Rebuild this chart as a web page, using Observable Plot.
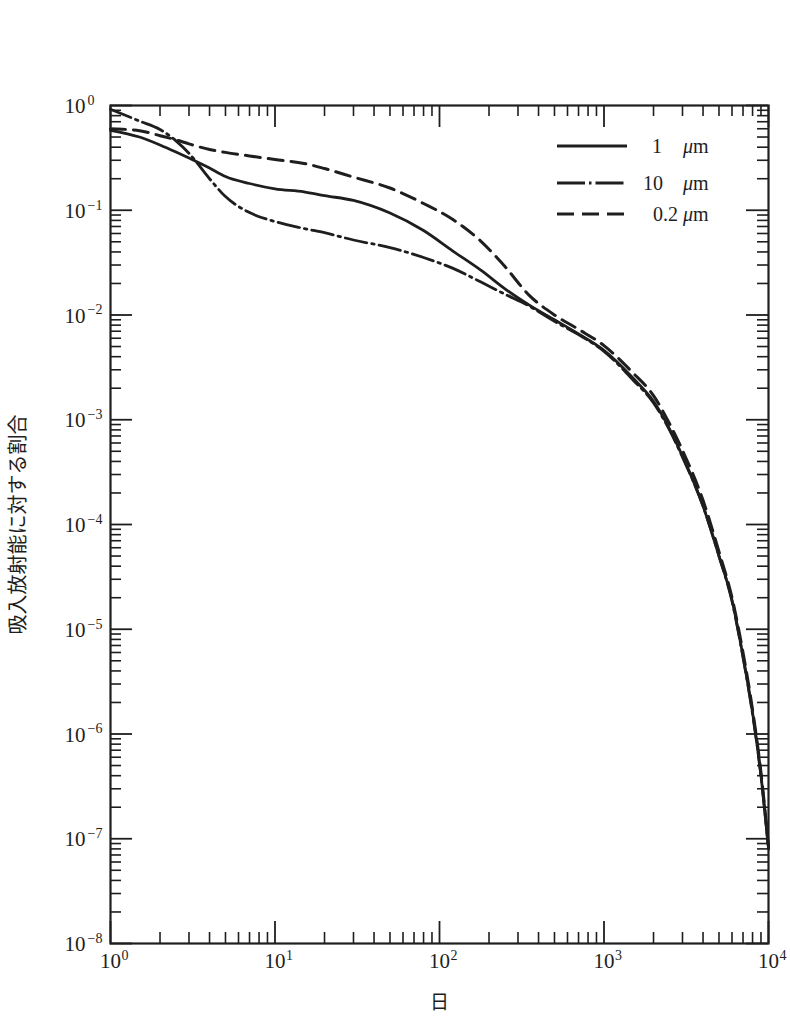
<!DOCTYPE html>
<html><head><meta charset="utf-8">
<script src="https://cdn.jsdelivr.net/npm/d3@7"></script>
<script src="https://cdn.jsdelivr.net/npm/@observablehq/plot@0.6"></script>
<style>
body{margin:0;background:#fff;}
#wrap{position:relative;width:790px;height:1024px;overflow:hidden;}
#legend{position:absolute;left:0;top:0;pointer-events:none;}
</style></head><body><div id="wrap"></div>
<script>
// ---- data ----
const days = [1, 1.5, 2, 2.5, 3, 4, 5, 7, 10, 15, 20, 30, 50, 80, 120, 180, 250, 350, 500, 700, 1000, 1500, 2000, 2500, 3000, 4000, 5000, 6000, 7000, 8000, 9000, 10000];
const frac1um  = [0.58, 0.50, 0.42, 0.36, 0.315, 0.253, 0.21, 0.18, 0.16, 0.15, 0.138, 0.124, 0.094, 0.064, 0.041, 0.0265, 0.0178, 0.0125, 0.0090, 0.0066, 0.0046, 0.0025, 0.0015, 8.2e-4, 4.5e-4, 1.5e-4, 5.0e-5, 1.9e-5, 5.5e-6, 1.6e-6, 4.0e-7, 8.0e-8];
const frac10um = [0.92, 0.71, 0.59, 0.46, 0.35, 0.20, 0.135, 0.095, 0.078, 0.067, 0.061, 0.052, 0.044, 0.0354, 0.028, 0.0205, 0.0158, 0.0122, 0.0087, 0.0065, 0.0045, 0.0024, 0.00145, 8.0e-4, 4.4e-4, 1.5e-4, 5.0e-5, 1.85e-5, 5.4e-6, 1.55e-6, 4.0e-7, 8.0e-8];
const frac02um = [0.60, 0.575, 0.515, 0.47, 0.43, 0.38, 0.357, 0.33, 0.305, 0.28, 0.25, 0.207, 0.163, 0.116, 0.082, 0.050, 0.029, 0.0155, 0.0100, 0.0073, 0.0051, 0.0028, 0.0017, 9.2e-4, 5.1e-4, 1.7e-4, 5.5e-5, 2.0e-5, 6.0e-6, 1.7e-6, 4.3e-7, 8.5e-8];
const seriesLabels = ["1", "10", "0.2"];
const unitLabel = "m";
const xExponents = [0, 1, 2, 3, 4];
const yExponents = [0, -1, -2, -3, -4, -5, -6, -7, -8];
const yTitle = "吸入放射能に対する割合";
const xTitle = "日";

// ---- build tables ----
const toRows = (vals) => days.map((d, i) => ({day: d, v: vals[i]}));
const rows1 = toRows(frac1um), rows10 = toRows(frac10um), rows02 = toRows(frac02um);
const xMajor = xExponents.map(e => 10 ** e);
const yMajor = yExponents.map(e => 10 ** e);
const xMinor = xExponents.slice(0, -1).flatMap(e => d3.range(2, 10).map(m => m * 10 ** e));
const yMinor = yExponents.slice(1).flatMap(e => d3.range(2, 10).map(m => m * 10 ** e));
const supr = e => e < 0 ? "\u2212" + (-e) : String(e);

const W = 790, H = 1024, mT = 105, mB = 81, mL = 110, mR = 22;
const FH = H - mT - mB, FW = W - mL - mR;
const MAJ = 22, MIN = 11;
const ink = "#1e1e1e";
const serif = "'Liberation Serif','DejaVu Serif',serif";
const cjk = "'Noto Sans CJK JP',sans-serif";

const chart = Plot.plot({
  width: W, height: H, marginTop: mT, marginBottom: mB, marginLeft: mL, marginRight: mR,
  style: {background: "transparent"},
  x: {type: "log", domain: [1, 1e4], axis: null},
  y: {type: "log", domain: [1e-8, 1], axis: null},
  marks: [
    // inward ticks on all four sides
    Plot.tickX(xMajor, {x: d => d, insetTop: FH - MAJ, stroke: ink, strokeWidth: 1.8}),
    Plot.tickX(xMajor, {x: d => d, insetBottom: FH - MAJ, stroke: ink, strokeWidth: 1.8}),
    Plot.tickX(xMinor, {x: d => d, insetTop: FH - MIN, stroke: ink, strokeWidth: 1.6}),
    Plot.tickX(xMinor, {x: d => d, insetBottom: FH - MIN, stroke: ink, strokeWidth: 1.6}),
    Plot.tickY(yMajor, {y: d => d, insetRight: FW - MAJ, stroke: ink, strokeWidth: 1.8}),
    Plot.tickY(yMajor, {y: d => d, insetLeft: FW - MAJ, stroke: ink, strokeWidth: 1.8}),
    Plot.tickY(yMinor, {y: d => d, insetRight: FW - MIN, stroke: ink, strokeWidth: 1.6}),
    Plot.tickY(yMinor, {y: d => d, insetLeft: FW - MIN, stroke: ink, strokeWidth: 1.6}),
    Plot.frame({stroke: ink, strokeWidth: 2.2}),
    // curves
    Plot.line(rows02, {x: "day", y: "v", curve: "monotone-x", stroke: ink, strokeWidth: 3, strokeDasharray: "15,8"}),
    Plot.line(rows10, {x: "day", y: "v", curve: "monotone-x", stroke: ink, strokeWidth: 2.8, strokeDasharray: "22,5,2.5,5"}),
    Plot.line(rows1, {x: "day", y: "v", curve: "monotone-x", stroke: ink, strokeWidth: 2.8}),
    // x tick labels
    Plot.text(xExponents, {x: e => 10 ** e, text: () => "10", frameAnchor: "bottom", lineAnchor: "middle", dy: 18, fontSize: 21, fontFamily: serif, fill: ink}),
    Plot.text(xExponents, {x: e => 10 ** e, text: e => supr(e), frameAnchor: "bottom", lineAnchor: "middle", textAnchor: "start", dx: 11, dy: 12, fontSize: 14, fontFamily: serif, fill: ink}),
    // y tick labels
    Plot.text(yExponents, {y: e => 10 ** e, text: () => "10", frameAnchor: "left", textAnchor: "end", lineAnchor: "middle", dx: -25, dy: 1, fontSize: 21, fontFamily: serif, fill: ink}),
    Plot.text(yExponents, {y: e => 10 ** e, text: e => supr(e), frameAnchor: "left", textAnchor: "start", lineAnchor: "middle", dx: -23, dy: -5, fontSize: 14, fontFamily: serif, fill: ink}),
    // axis titles
    Plot.text([yTitle], {frameAnchor: "left", textAnchor: "middle", dx: -92, rotate: -90, fontSize: 20, fontFamily: cjk, fill: ink}),
    Plot.text([xTitle], {frameAnchor: "bottom", textAnchor: "middle", dy: 65, fontSize: 19, fontFamily: cjk, fill: ink})
  ]
});
const wrap = document.getElementById("wrap");
wrap.appendChild(chart);

// ---- legend (overlay, inside plot frame top right) ----
const lg = d3.select(wrap).append("svg").attr("id", "legend").attr("width", W).attr("height", H);
const legendRows = [
  {label: seriesLabels[0], dash: null, y: 146, nx: 662},
  {label: seriesLabels[1], dash: "28,4,2.5,4", y: 183, nx: 663},
  {label: seriesLabels[2], dash: "17,8", y: 214, nx: 678}
];
legendRows.forEach(r => {
  lg.append("line").attr("x1", 557).attr("x2", 627).attr("y1", r.y).attr("y2", r.y)
    .attr("stroke", ink).attr("stroke-width", 3).attr("stroke-dasharray", r.dash);
  lg.append("text").attr("x", r.nx).attr("y", r.y).attr("dy", "0.35em").attr("text-anchor", "end")
    .attr("font-family", serif).attr("font-size", 20).attr("fill", ink).text(r.label);
  const t = lg.append("text").attr("x", 683).attr("y", r.y).attr("dy", "0.35em")
    .attr("font-family", serif).attr("font-size", 20).attr("fill", ink);
  t.append("tspan").attr("font-style", "italic").text("\u03bc");
  t.append("tspan").text(unitLabel);
});
</script>
</body></html>
